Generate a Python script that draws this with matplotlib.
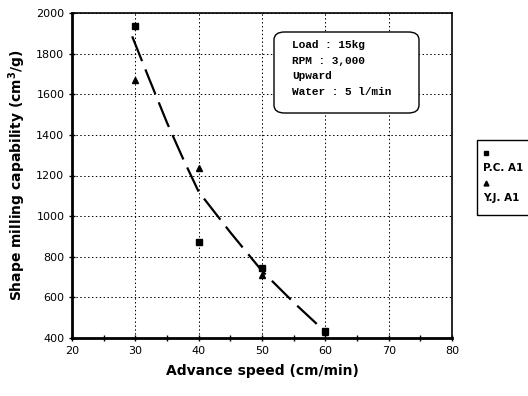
import matplotlib
matplotlib.use("Agg")
import matplotlib.pyplot as plt
from matplotlib.patches import FancyBboxPatch, Rectangle
from matplotlib.lines import Line2D

speed = [30, 40, 50, 60]
pc_a1 = [1935, 875, 745, 435]
yj_a1 = [1670, 1235, 712, 430]
fit_x = [29.5, 32, 35, 37.5, 40, 45, 50, 55, 60]
fit_y = [1885, 1690, 1460, 1285, 1120, 920, 730, 575, 430]
xticks = [20, 30, 40, 50, 60, 70, 80]
yticks = [400, 600, 800, 1000, 1200, 1400, 1600, 1800, 2000]
series_names = ["P.C. A1", "Y.J. A1"]
conditions = ["Load : 15kg", "RPM : 3,000", "Upward", "Water : 5 l/min"]

W, H = 528, 396
fig = plt.figure(figsize=(W / 100, H / 100), dpi=100)
ax = fig.add_axes([72 / W, 1 - 338 / H, (452 - 72) / W, (338 - 13) / H])

ax.plot(fit_x, fit_y, color="black", lw=1.6, dashes=(12, 4))
ax.plot(speed, pc_a1, linestyle="none", marker="s", ms=4, color="black")
ax.plot(speed, yj_a1, linestyle="none", marker="^", ms=4, color="black")

ax.set_xlim(20, 80)
ax.set_ylim(400, 2000)
ax.set_xticks(xticks)
ax.set_yticks(yticks)
ax.set_xticks(range(25, 80, 10), minor=True)
ax.grid(True, which="major", linestyle=(0, (1.5, 2.5)), color="black", lw=0.7)
ax.tick_params(axis="both", which="major", labelsize=8, length=4, width=1, direction="inout")
ax.tick_params(axis="x", which="minor", length=4, width=1, direction="inout")
ax.spines["left"].set_linewidth(2)
ax.spines["bottom"].set_linewidth(2)
ax.spines["top"].set_linewidth(1.2)
ax.spines["right"].set_linewidth(1.2)

ax.set_xlabel("Advance speed (cm/min)", fontsize=10, fontweight="bold", labelpad=6)
ax.set_ylabel("Shape milling capability (cm$^\\mathbf{3}$/g)", fontsize=10, fontweight="bold", labelpad=6)

# condition box
box = FancyBboxPatch((274 / W, 1 - 113 / H), (419 - 274) / W, (113 - 32) / H,
                     boxstyle="round,pad=0,rounding_size=0.02", transform=fig.transFigure,
                     facecolor="white", edgecolor="black", lw=1.0, zorder=5)
fig.patches.append(box)
for i, t in enumerate(conditions):
    fig.text(292 / W, 1 - (45 + i * 15.6) / H, t, fontsize=8, family="Liberation Mono",
             fontweight="bold", va="center", ha="left", zorder=6)

# legend box (cut at right edge)
fig.patches.append(Rectangle((477 / W, 1 - 215 / H), 60 / W, (215 - 140) / H,
                             transform=fig.transFigure, facecolor="white",
                             edgecolor="black", lw=1.0))
fig.lines.append(Line2D([486 / W], [1 - 153 / H], marker="s", ms=3.5, color="black",
                        transform=fig.transFigure))
fig.text(483 / W, 1 - 168 / H, series_names[0], fontsize=7.5, fontweight="bold", va="center")
fig.lines.append(Line2D([486 / W], [1 - 183 / H], marker="^", ms=3.5, color="black",
                        transform=fig.transFigure))
fig.text(483 / W, 1 - 198 / H, series_names[1], fontsize=7.5, fontweight="bold", va="center")

fig.savefig("out.png", dpi=100)
